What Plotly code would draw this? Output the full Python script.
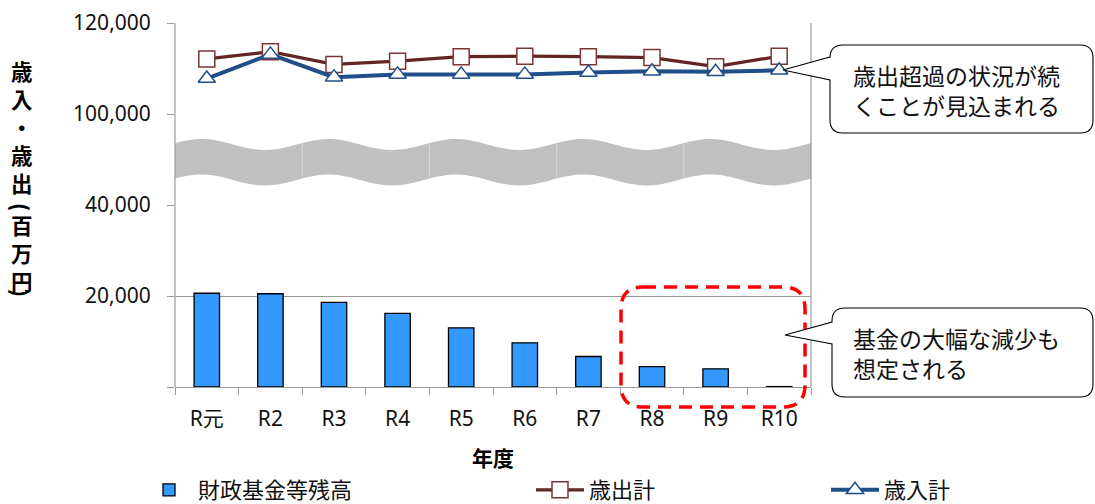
import numpy as np
import plotly.graph_objects as go

# ---- data -------------------------------------------------------------
years = ["R元", "R2", "R3", "R4", "R5", "R6", "R7", "R8", "R9", "R10"]
fund_balance = [20600, 20500, 18600, 16200, 13000, 9700, 6700, 4500, 4000, 100]
expenditure = [112100, 113700, 110900, 111600, 112600, 112700, 112600, 112400, 110400, 112700]
revenue = [107800, 113100, 108100, 108700, 108700, 108700, 109100, 109400, 109300, 109600]

lower_ticks = [0, 20000, 40000]
lower_ticktext = ["", "20,000", "40,000"]
upper_ticks = [100000, 120000]
upper_ticktext = ["100,000", "120,000"]

# ---- page geometry (pixels) ------------------------------------------
W, H = 1095, 504
L, R, T, B = 175, 284, 23, 117
PW, PH = W - L - R, H - T - B


def px(x):
    return (x - L) / PW


def py(y):
    return (H - B - y) / PH


def to_path(points, closed=True):
    # every command carries exactly one coordinate group
    parts = []
    for cmd, pts in points:
        coords = " ".join(f"{px(a):.5f},{py(b):.5f}" for a, b in pts)
        parts.append(f"{cmd}{coords}")
    return " ".join(parts) + (" Z" if closed else "")


GRID = "#9a9a9a"
FONT_JP = "Noto Sans CJK JP"
TICK_FONT = dict(family="Noto Sans, Noto Sans CJK JP", size=21, color="#111111")

fig = go.Figure()

fig.add_trace(go.Bar(
    x=years, y=fund_balance, name="財政基金等残高",
    marker=dict(color="#3399FF", line=dict(color="#000000", width=1.3)),
    width=0.4, xaxis="x", yaxis="y", legend="legend",
))
fig.add_trace(go.Scatter(
    x=years, y=expenditure, name="歳出計", mode="lines+markers",
    line=dict(color="#632523", width=3.2),
    marker=dict(symbol="square", size=16, color="#ffffff",
                line=dict(color="#7a3535", width=1.5)),
    xaxis="x", yaxis="y2", legend="legend2", cliponaxis=False,
))
fig.add_trace(go.Scatter(
    x=years, y=revenue, name="歳入計", mode="lines+markers",
    line=dict(color="#1F4E88", width=4),
    marker=dict(symbol="triangle-up", size=15, color="#ffffff",
                line=dict(color="#1F4E88", width=1.5)),
    xaxis="x", yaxis="y2", legend="legend3", cliponaxis=False,
))

shapes = []

# wavy break band between the two value ranges
seg_w = PW / 5
for k in range(5):
    x0 = L + k * seg_w
    t = np.linspace(0, 1, 40)
    xs = x0 + t * seg_w
    top = 144.5 - 5.5 * np.sin(2 * np.pi * t + 0.27)
    bot = top + 35.5
    pts = [("M", [(xs[0], top[0])])]
    pts += [("L", [(a, b)]) for a, b in zip(xs[1:], top[1:])]
    pts += [("L", [(a, b)]) for a, b in zip(xs[::-1], bot[::-1])]
    shapes.append(dict(type="path", xref="paper", yref="paper",
                       path=to_path(pts), fillcolor="#c0c0c0",
                       line=dict(width=0), layer="above"))
    if k > 0:
        shapes.append(dict(type="line", xref="paper", yref="paper",
                           x0=px(x0), x1=px(x0), y0=py(top[0] + 1), y1=py(top[0] + 34),
                           line=dict(color="#d6d6d6", width=1), layer="above"))

# plot frame verticals
for xv in (L, L + PW):
    shapes.append(dict(type="line", xref="paper", yref="paper",
                       x0=px(xv), x1=px(xv), y0=0, y1=1,
                       line=dict(color=GRID, width=1.2), layer="above"))


def rounded_rect(x0, y0, x1, y1, r):
    return [
        ("M", [(x0 + r, y0)]), ("L", [(x1 - r, y0)]), ("Q", [(x1, y0), (x1, y0 + r)]),
        ("L", [(x1, y1 - r)]), ("Q", [(x1, y1), (x1 - r, y1)]),
        ("L", [(x0 + r, y1)]), ("Q", [(x0, y1), (x0, y1 - r)]),
        ("L", [(x0, y0 + r)]), ("Q", [(x0, y0), (x0 + r, y0)]),
    ]


def callout(x0, y0, x1, y1, r, ya, yb, tip):
    return [
        ("M", [(x0 + r, y0)]), ("L", [(x1 - r, y0)]), ("Q", [(x1, y0), (x1, y0 + r)]),
        ("L", [(x1, y1 - r)]), ("Q", [(x1, y1), (x1 - r, y1)]),
        ("L", [(x0 + r, y1)]), ("Q", [(x0, y1), (x0, y1 - r)]),
        ("L", [(x0, yb)]), ("L", [tip]), ("L", [(x0, ya)]),
        ("L", [(x0, y0 + r)]), ("Q", [(x0, y0), (x0 + r, y0)]),
    ]


# dashed highlight around the last three years
shapes.append(dict(type="path", xref="paper", yref="paper",
                   path=to_path(rounded_rect(621, 287, 805, 407, 22)),
                   line=dict(color="#ff0000", width=3.5, dash="13px,8px"),
                   layer="above"))

# speech-bubble callouts
shapes.append(dict(type="path", xref="paper", yref="paper",
                   path=to_path(callout(830, 45, 1093, 133, 13, 57, 80, (783, 70))),
                   fillcolor="#ffffff", line=dict(color="#000000", width=1.1),
                   layer="above"))
shapes.append(dict(type="path", xref="paper", yref="paper",
                   path=to_path(callout(832, 308, 1093, 397, 13, 322, 344, (785, 335))),
                   fillcolor="#ffffff", line=dict(color="#000000", width=1.1),
                   layer="above"))

annotations = [
    dict(text="歳出超過の状況が続<br>くことが見込まれる", x=px(851), y=py(90),
         xref="paper", yref="paper", xanchor="left", yanchor="middle", align="left",
         showarrow=False, font=dict(family=FONT_JP, size=23, color="#111111")),
    dict(text="基金の大幅な減少も<br>想定される", x=px(851), y=py(353),
         xref="paper", yref="paper", xanchor="left", yanchor="middle", align="left",
         showarrow=False, font=dict(family=FONT_JP, size=23, color="#111111")),
    dict(text="年度", x=px(493), y=py(457), xref="paper", yref="paper",
         xanchor="center", yanchor="middle", showarrow=False,
         font=dict(family=FONT_JP, size=21, color="#000000", weight="bold")),
]

# vertical axis title, stacked upright; brackets turned to lie across the column
title_font = dict(family=FONT_JP, size=21.5, color="#000000", weight="bold")
for txt, yc, ang in (("歳<br>入<br>・<br>歳<br>出", 126, 0), ("(", 207, 90),
                     ("百<br>万<br>円", 252, 0), (")", 293, 90)):
    annotations.append(dict(text=txt, x=px(22), y=py(yc), xref="paper", yref="paper",
                            xanchor="center", yanchor="middle", showarrow=False,
                            textangle=ang, font=title_font))

legend_common = dict(orientation="h", yanchor="middle", xanchor="left",
                     xref="container", yref="container",
                     bgcolor="rgba(0,0,0,0)", itemwidth=48,
                     font=dict(family=FONT_JP, size=22, color="#111111"))

fig.update_layout(
    width=W, height=H,
    margin=dict(l=L, r=R, t=T, b=B, pad=0, autoexpand=False),
    paper_bgcolor="#ffffff", plot_bgcolor="#ffffff",
    showlegend=True,
    legend=dict(x=140 / W, y=1 - 490 / H, **legend_common),
    legend2=dict(x=531 / W, y=1 - 490 / H, **legend_common),
    legend3=dict(x=826 / W, y=1 - 490 / H, **legend_common),
    xaxis=dict(
        type="category", categoryorder="array", categoryarray=years,
        range=[-0.5, 9.5], anchor="y", automargin=False,
        tickson="boundaries", ticks="outside", ticklen=7, tickcolor=GRID,
        showline=True, linecolor=GRID, linewidth=1.2,
        showgrid=False, tickfont=TICK_FONT, ticklabelstandoff=13,
    ),
    yaxis=dict(
        domain=[0, 0.5], range=[0, 40000], anchor="x", automargin=False,
        tickvals=lower_ticks, ticktext=lower_ticktext,
        ticks="outside", ticklen=7, tickcolor=GRID,
        showgrid=True, gridcolor=GRID, gridwidth=1.2, zeroline=False,
        showline=False, tickfont=TICK_FONT, ticklabelstandoff=12,
    ),
    yaxis2=dict(
        domain=[0.75, 1], range=[100000, 120000], anchor="x", automargin=False,
        tickvals=upper_ticks, ticktext=upper_ticktext,
        ticks="outside", ticklen=7, tickcolor=GRID,
        showgrid=True, gridcolor=GRID, gridwidth=1.2, zeroline=False,
        showline=False, tickfont=TICK_FONT, ticklabelstandoff=12,
    ),
    shapes=shapes,
    annotations=annotations,
)

fig.write_html("out.html")
